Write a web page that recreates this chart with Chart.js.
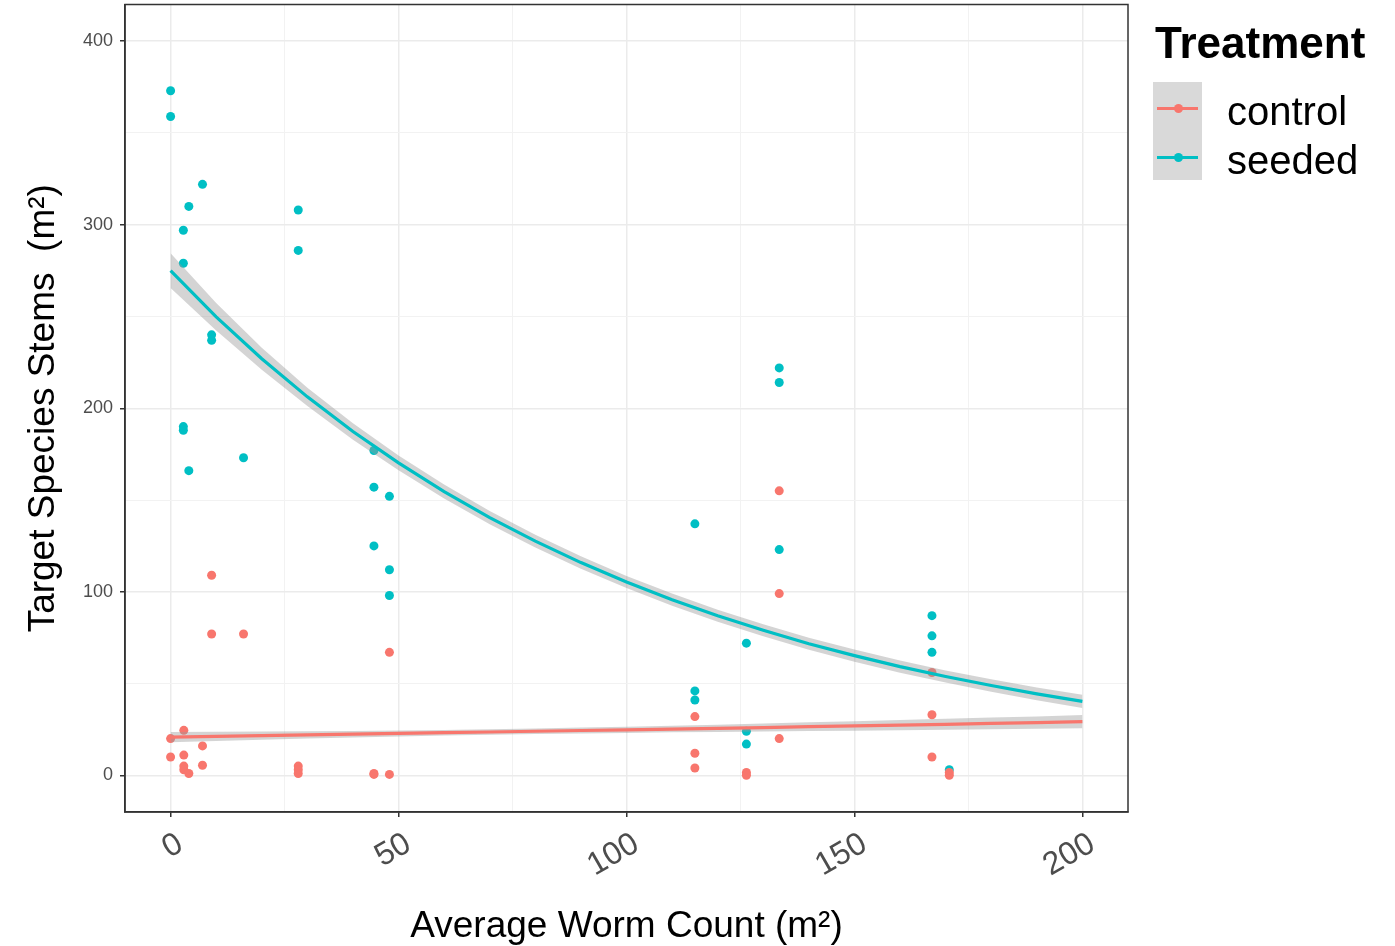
<!DOCTYPE html>
<html>
<head>
<meta charset="utf-8">
<script src="https://cdn.jsdelivr.net/npm/chart.js@4/dist/chart.umd.min.js"></script>
<style>
html,body{margin:0;padding:0;background:#fff;}
#wrap{position:relative;width:1395px;height:946px;overflow:hidden;}
#c{position:absolute;left:0;top:0;}
.lg{position:absolute;font-family:"Liberation Sans",Arial,sans-serif;color:#000;white-space:nowrap;}
</style>
</head>
<body>
<div id="wrap">
<canvas id="c" width="1395" height="946"></canvas>
<div class="lg" style="left:1155px;top:21px;font-size:44px;line-height:44px;font-weight:bold;">Treatment</div>
<div class="lg" style="left:1153px;top:82px;width:49px;height:98px;background:#D9D9D9;"></div>
<div class="lg" style="left:1157px;top:106.5px;width:41px;height:3px;background:#F8766D;"></div>
<div class="lg" style="left:1173.5px;top:103.5px;width:9px;height:9px;border-radius:50%;background:#F8766D;"></div>
<div class="lg" style="left:1157px;top:155.5px;width:41px;height:3px;background:#00BFC4;"></div>
<div class="lg" style="left:1173.5px;top:152.5px;width:9px;height:9px;border-radius:50%;background:#00BFC4;"></div>
<div class="lg" style="left:1227px;top:91px;font-size:40px;line-height:40px;">control</div>
<div class="lg" style="left:1227px;top:140px;font-size:40px;line-height:40px;">seeded</div>
</div>
<script>
// ---- data ----
const seriesNames = ["control", "seeded"];
const xMajorTicks = [0, 50, 100, 150, 200];
const xMinorTicks = [25, 75, 125, 175];
const yMajorTicks = [0, 100, 200, 300, 400];
const yMinorTicks = [50, 150, 250, 350];

const seededX = [0, 0, 7, 4, 2.8, 2.8, 28, 28, 9, 9, 2.8, 2.8, 4, 16, 44.6, 44.6, 48, 44.6, 48, 48, 115, 115, 115, 126.3, 126.3, 126.3, 133.5, 133.5, 133.5, 167, 167, 167, 170.8];
const seededY = [373, 359, 322, 310, 297, 279, 308, 286, 240, 237, 190, 188, 166, 173, 177, 157, 152, 125, 112, 98, 137, 46, 41, 72, 24, 17, 222, 214, 123, 87, 76, 67, 3];

const controlX = [0, 0, 2.9, 2.9, 2.9, 2.9, 4, 7, 7, 9, 9, 16, 28, 28, 28, 44.6, 44.6, 48, 48, 115, 115, 115, 126.3, 126.3, 133.5, 133.5, 133.5, 167, 167, 167, 170.8, 170.8];
const controlY = [20, 10, 24.5, 11, 5, 3, 1, 16, 5.5, 109, 77, 77, 5, 3, 1, 1, 0.5, 0.5, 67, 32, 12, 4, 1.5, 0, 155, 99, 20, 56, 33, 10, 1.5, 0];

const fitX = [0, 10, 20, 30, 40, 50, 60, 70, 80, 90, 100, 110, 120, 130, 140, 150, 160, 170, 180, 190, 200];
const seededFit = [275, 249.8, 227, 206.2, 187.3, 170.2, 154.6, 140.4, 127.6, 115.9, 105.3, 95.7, 86.9, 79.0, 71.7, 65.2, 59.2, 53.8, 48.9, 44.4, 40.3];
const seededUpper = [284.5, 257.3, 233, 211.2, 191.8, 174.2, 158.4, 144, 131.1, 119.3, 108.6, 99, 90.2, 82.3, 75, 68.5, 62.5, 57.1, 52.3, 47.9, 43.9];
const seededLower = [265.5, 242.3, 221, 201.2, 182.8, 166.2, 150.8, 136.8, 124.1, 112.5, 102, 92.4, 83.6, 75.7, 68.4, 61.9, 55.9, 50.5, 45.5, 40.9, 36.7];
const controlFit = [20.8, 21.2, 21.6, 22.0, 22.4, 22.8, 23.2, 23.6, 24.0, 24.4, 24.8, 25.2, 25.6, 26.0, 26.5, 26.9, 27.3, 27.8, 28.3, 28.7, 29.2];
const controlUpper = [23.6, 23.7, 23.8, 24.0, 24.2, 24.4, 24.7, 25.1, 25.5, 26.0, 26.5, 27.0, 27.6, 28.2, 28.9, 29.5, 30.1, 30.8, 31.5, 32.1, 32.8];
const controlLower = [18.0, 18.7, 19.4, 20.0, 20.6, 21.2, 21.7, 22.1, 22.5, 22.8, 23.1, 23.4, 23.6, 23.8, 24.1, 24.3, 24.5, 24.8, 25.1, 25.3, 25.6];

// ---- build ----
const COL_CONTROL = '#F8766D';
const COL_SEEDED = '#00BFC4';
const BAND = 'rgba(153,153,153,0.42)';
const pts = (xs, ys) => xs.map((x, i) => ({x: x, y: ys[i]}));

Chart.defaults.font.family = '"Liberation Sans", Arial, sans-serif';

function lineDs(ys, color, order, extra) {
  return Object.assign({
    type: 'line', data: pts(fitX, ys), borderColor: color, borderWidth: 3.2,
    pointRadius: 0, tension: 0, fill: false, order: order, showLine: true
  }, extra || {});
}

const panelBorder = {
  id: 'panelBorder',
  afterDraw(chart) {
    const {ctx, chartArea: a} = chart;
    ctx.save();
    ctx.strokeStyle = '#333333';
    ctx.lineWidth = 1.5;
    ctx.strokeRect(a.left, a.top, a.right - a.left, a.bottom - a.top);
    ctx.restore();
  }
};

function gridOpts(majors) {
  return {
    color: c => (c.tick && majors.includes(c.tick.value)) ? '#EBEBEB' : '#F2F2F2',
    lineWidth: c => (c.tick && majors.includes(c.tick.value)) ? 1.5 : 1,
    tickColor: c => (c.tick && majors.includes(c.tick.value)) ? '#333333' : 'rgba(0,0,0,0)',
    tickLength: 5,
    drawTicks: true
  };
}

new Chart(document.getElementById('c'), {
  type: 'scatter',
  data: {
    datasets: [
      {label: seriesNames[0], data: pts(controlX, controlY), backgroundColor: COL_CONTROL, borderWidth: 0, pointRadius: 4.5, order: 10},
      {label: seriesNames[1], data: pts(seededX, seededY), backgroundColor: COL_SEEDED, borderWidth: 0, pointRadius: 4.5, order: 11},
      lineDs(seededLower, 'rgba(0,0,0,0)', 5, {borderWidth: 0}),
      lineDs(seededUpper, 'rgba(0,0,0,0)', 5, {borderWidth: 0, fill: {target: 2}, backgroundColor: BAND}),
      lineDs(controlLower, 'rgba(0,0,0,0)', 5, {borderWidth: 0}),
      lineDs(controlUpper, 'rgba(0,0,0,0)', 5, {borderWidth: 0, fill: {target: 4}, backgroundColor: BAND}),
      lineDs(seededFit, COL_SEEDED, 1),
      lineDs(controlFit, COL_CONTROL, 1)
    ]
  },
  options: {
    responsive: false,
    animation: false,
    layout: {padding: {top: 3, right: 267, left: 0, bottom: 0}},
    plugins: {legend: {display: false}, tooltip: {enabled: false}},
    scales: {
      x: {
        type: 'linear', min: -10, max: 210,
        afterBuildTicks: s => { s.ticks = xMajorTicks.concat(xMinorTicks).sort((a, b) => a - b).map(v => ({value: v})); },
        afterFit: s => { s.height = 134; s.paddingLeft = 0; s.paddingRight = 0; },
        ticks: {
          autoSkip: false, minRotation: 30, maxRotation: 30, labelOffset: 10, padding: 8,
          color: '#4D4D4D', font: {size: 32},
          callback: v => xMajorTicks.includes(v) ? String(v) : ''
        },
        grid: gridOpts(xMajorTicks),
        border: {display: true, color: '#333333', width: 1.5},
        title: {display: true, text: 'Average Worm Count (m²)', color: '#000', font: {size: 37, lineHeight: 1.05}, padding: {top: 0, bottom: 0}}
      },
      y: {
        type: 'linear', min: -20, max: 420,
        afterBuildTicks: s => { s.ticks = yMajorTicks.concat(yMinorTicks).sort((a, b) => a - b).map(v => ({value: v})); },
        afterFit: s => { s.width = 125; s.paddingTop = 0; s.paddingBottom = 0; },
        ticks: {
          autoSkip: false, padding: 7, color: '#4D4D4D', font: {size: 18},
          callback: v => yMajorTicks.includes(v) ? String(v) : ''
        },
        grid: gridOpts(yMajorTicks),
        border: {display: true, color: '#333333', width: 1.5},
        title: {display: true, text: 'Target Species Stems  (m²)', color: '#000', font: {size: 37}, padding: {top: 22, bottom: 0}}
      }
    }
  },
  plugins: [panelBorder]
});
</script>
</body>
</html>
